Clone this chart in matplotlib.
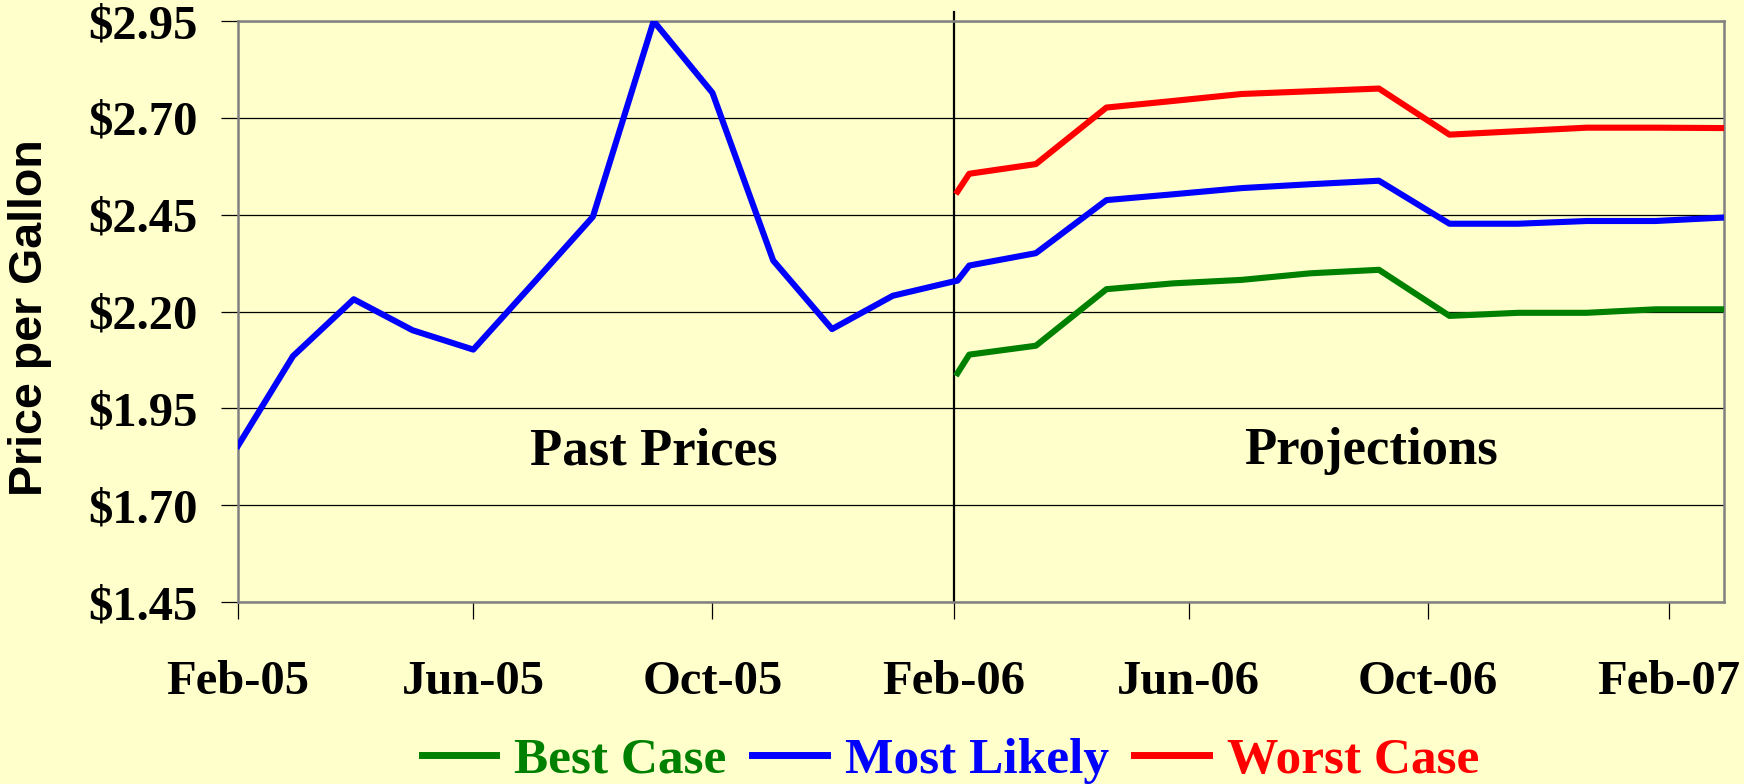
import pandas as pd
import matplotlib.pyplot as plt
import matplotlib.dates as mdates
from matplotlib.lines import Line2D
from matplotlib.ticker import FuncFormatter

# historical monthly prices
past_dates = pd.to_datetime([
    '2005-02-01', '2005-03-01', '2005-04-01', '2005-05-01', '2005-06-01',
    '2005-07-01', '2005-08-01', '2005-09-01', '2005-10-01', '2005-11-01',
    '2005-12-01', '2006-01-01', '2006-02-01'])
past_price = [1.854, 2.085, 2.232, 2.152, 2.102, 2.27, 2.445, 2.95,
              2.765, 2.332, 2.155, 2.241, 2.278]

# projections
proj_dates = pd.to_datetime([
    '2006-02-03', '2006-02-09', '2006-03-15', '2006-04-20', '2006-05-24',
    '2006-06-28', '2006-08-02', '2006-09-06', '2006-10-12', '2006-11-16',
    '2006-12-21', '2007-01-25', '2007-03-01'])
best = [2.041, 2.089, 2.112, 2.258, 2.273, 2.282, 2.299, 2.308,
        2.189, 2.197, 2.197, 2.206, 2.206]
likely = [2.280, 2.319, 2.351, 2.488, 2.503, 2.519, 2.529, 2.538,
          2.427, 2.427, 2.434, 2.434, 2.443]
worst = [2.510, 2.556, 2.581, 2.727, 2.744, 2.762, 2.769, 2.776,
         2.657, 2.666, 2.675, 2.675, 2.674]

y_ticks = [1.45, 1.70, 1.95, 2.20, 2.45, 2.70, 2.95]
x_ticks = pd.to_datetime(['2005-02-01', '2005-06-01', '2005-10-01', '2006-02-01',
                          '2006-06-01', '2006-10-01', '2007-02-01'])

bg = '#FFFFCC'
serif = 'Liberation Serif'

fig = plt.figure(figsize=(17.44, 7.84), dpi=100, facecolor=bg)
ax = fig.add_axes([0.1365, 0.232, 0.852, 0.741])
ax.set_facecolor(bg)

lw = 4.4
ax.plot(list(past_dates) + list(proj_dates), past_price + likely, color='#0000FF', lw=lw, zorder=3)
ax.plot(proj_dates, best, color='#008000', lw=lw, zorder=3)
ax.plot(proj_dates, worst, color='#FF0000', lw=lw, zorder=3)

ax.axvline(pd.Timestamp('2006-02-01'), ymin=0, ymax=1.015, color='black', lw=1.6,
           clip_on=False, zorder=2)

ax.set_ylim(1.45, 2.95)
ax.set_xlim(pd.Timestamp('2005-02-01'), pd.Timestamp('2007-03-01'))
ax.set_yticks(y_ticks)
ax.yaxis.set_major_formatter(FuncFormatter(lambda v, p: '$%.2f' % v))
ax.set_xticks(x_ticks)
ax.xaxis.set_major_formatter(mdates.DateFormatter('%b-%y'))
ax.grid(axis='y', color='black', lw=0.9)
ax.set_axisbelow(True)

for s in ax.spines.values():
    s.set_color('#808080')
    s.set_linewidth(1.8)

ax.tick_params(axis='y', direction='out', length=12, width=0.9, color='black', pad=17)
ax.tick_params(axis='x', direction='out', length=12, width=0.9, color='black', pad=30)
for lab in ax.get_xticklabels() + ax.get_yticklabels():
    lab.set_fontfamily(serif)
    lab.set_fontweight('bold')
    lab.set_fontsize(35)

ax.set_ylabel('Price per Gallon', family='Liberation Sans', fontweight='bold',
              fontsize=33.5)
ax.yaxis.set_label_coords(-0.125, 0.49)

ax.text(pd.Timestamp('2005-09-01'), 1.84, 'Past Prices', family=serif, fontweight='bold',
        fontsize=38, ha='center', va='center')
ax.text(pd.Timestamp('2006-09-02'), 1.84, 'Projections', family=serif, fontweight='bold',
        fontsize=38, ha='center', va='center')

handles = [Line2D([], [], color='#008000', lw=lw + 0.6),
           Line2D([], [], color='#0000FF', lw=lw + 0.6),
           Line2D([], [], color='#FF0000', lw=lw + 0.6)]
fig.legend(handles, ['Best Case', 'Most Likely', 'Worst Case'], loc='center',
           bbox_to_anchor=(0.545, 0.03), ncol=3, frameon=False, labelcolor='linecolor',
           prop=dict(family=serif, weight='bold', size=37), handlelength=1.45,
           handletextpad=0.35, columnspacing=0.5, borderpad=0)

fig.savefig('out.png', dpi=100, facecolor=bg)
